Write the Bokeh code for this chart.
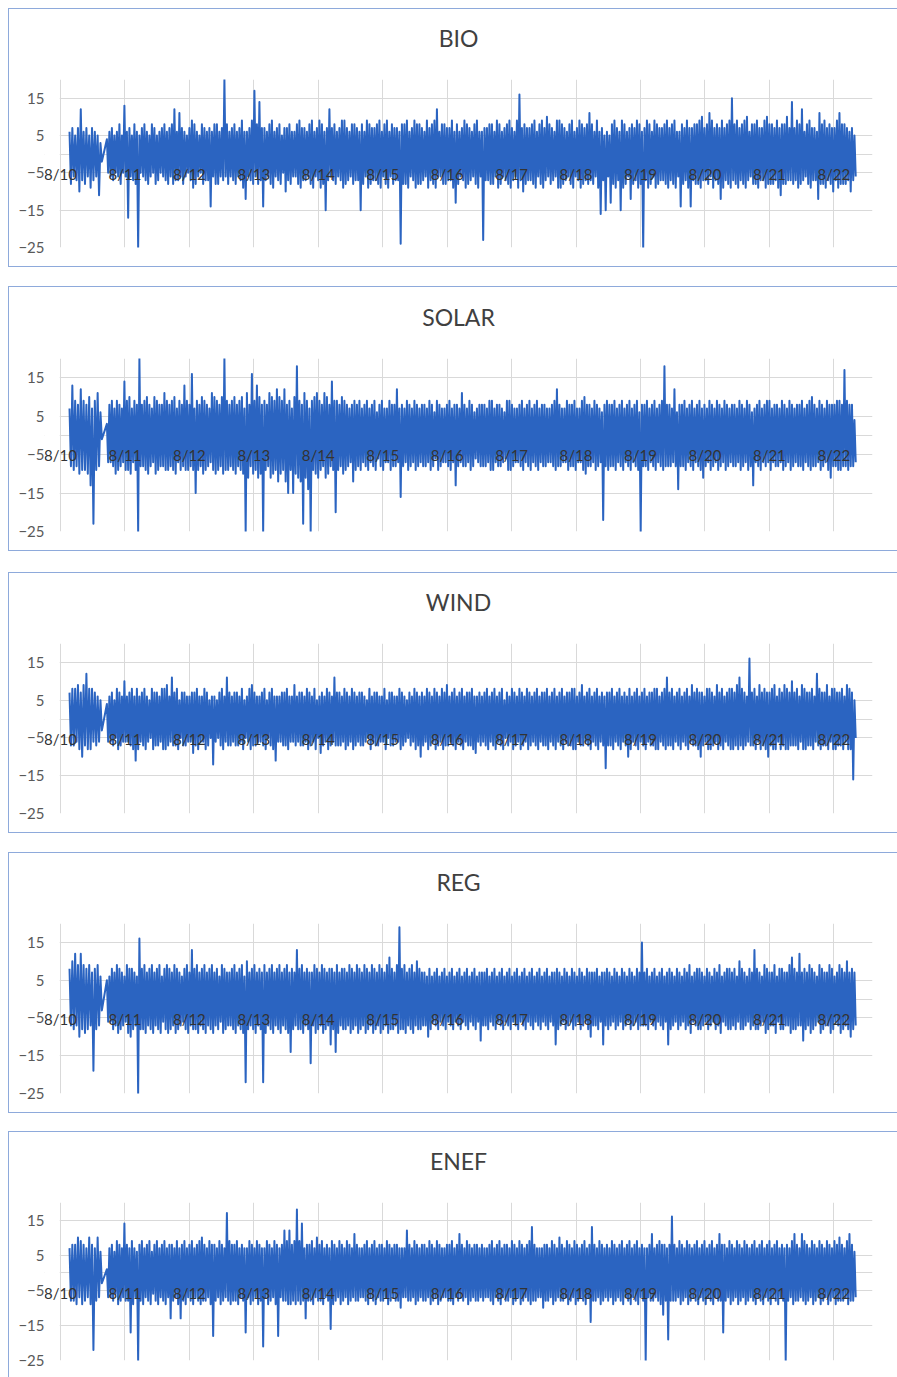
import numpy as np
from bokeh.plotting import figure
from bokeh.layouts import column
from bokeh.models import Range1d, FixedTicker, BoxAnnotation
from bokeh.embed import file_html
from bokeh.resources import INLINE

# ---------------- data ----------------
day_labels = ["8/10", "8/11", "8/12", "8/13", "8/14", "8/15", "8/16",
              "8/17", "8/18", "8/19", "8/20", "8/21", "8/22"]
y_ticks = [-25, -15, -5, 5, 15]
titles = ["BIO", "SOLAR", "WIND", "REG", "ENEF"]

# interval start times (days after 8/10 00:00): a short first block, a data gap, the main block.
# each interval holds its high reading followed by its low reading.
t_a = np.linspace(0.14, 0.62, 12)
t_b = np.linspace(0.72, 12.32, 300)

bio_a_hi = [6, 7, 5, 7, 12, 6, 7, 5, 7, 6, 5, 3]
bio_a_lo = [-8, -6, -7, -10, -7, -8, -6, -9, -7, -6, -11, -2]
bio_hi = [
    4, 6, 7, 5, 6, 8, 5, 13, 6, 7, 5, 8, 6, 5, 7, 8, 6, 5, 8, 7, 5, 6, 7, 8, 6,
    7, 8, 12, 6, 11, 7, 6, 5, 7, 9, 8, 6, 5, 8, 7, 6, 7, 6, 8, 8, 6, 7, 20, 8, 6,
    7, 8, 6, 7, 9, 6, 6, 7, 9, 17, 8, 14, 7, 7, 6, 8, 9, 6, 7, 8, 5, 7, 7, 8, 6,
    6, 8, 9, 7, 7, 6, 8, 9, 6, 7, 9, 8, 6, 7, 12, 7, 8, 6, 7, 9, 9, 7, 6, 8, 8,
    7, 6, 8, 6, 9, 8, 7, 7, 8, 9, 6, 8, 9, 6, 8, 7, 7, 6, 8, 8, 9, 6, 7, 9, 8,
    8, 7, 6, 9, 7, 8, 9, 12, 6, 8, 8, 7, 7, 9, 6, 8, 6, 7, 9, 8, 7, 6, 8, 9, 6,
    6, 7, 7, 8, 8, 6, 9, 8, 6, 7, 8, 9, 7, 6, 9, 16, 7, 8, 7, 7, 8, 9, 6, 8, 9,
    7, 10, 8, 7, 6, 9, 9, 8, 7, 6, 8, 9, 6, 7, 9, 8, 7, 8, 11, 8, 6, 9, 6, 7, 5,
    6, 5, 8, 9, 7, 6, 9, 8, 6, 7, 8, 7, 9, 8, 6, 7, 9, 8, 6, 9, 8, 7, 7, 8, 9,
    7, 8, 9, 6, 6, 8, 7, 9, 7, 7, 8, 8, 9, 10, 7, 8, 11, 9, 7, 8, 7, 9, 7, 8, 9,
    15, 8, 9, 7, 8, 9, 10, 6, 8, 8, 9, 7, 7, 9, 10, 8, 8, 7, 9, 7, 8, 8, 10, 7, 14,
    7, 9, 8, 12, 6, 8, 9, 7, 7, 6, 11, 8, 9, 7, 8, 7, 7, 9, 11, 8, 8, 7, 6, 7, 5,
]
bio_lo = [
    -5, -6, -7, -5, -6, -8, -5, -6, -17, -6, -7, -8, -25, -5, -6, -7, -8, -6, -5, -8, -7, -5, -6, -7, -8,
    -6, -8, -7, -7, -6, -8, -6, -5, -7, -9, -8, -6, -5, -8, -7, -7, -14, -6, -8, -8, -6, -7, -6, -8, -6,
    -7, -8, -6, -7, -9, -12, -6, -7, -8, -6, -8, -7, -14, -7, -6, -8, -9, -6, -7, -8, -5, -10, -7, -8, -6,
    -6, -8, -9, -7, -7, -6, -8, -9, -6, -7, -9, -8, -15, -7, -6, -7, -8, -6, -7, -9, -8, -7, -6, -8, -7,
    -7, -15, -8, -6, -9, -8, -7, -7, -8, -9, -6, -8, -9, -6, -8, -7, -7, -24, -8, -8, -9, -6, -7, -9, -8,
    -8, -7, -6, -9, -7, -8, -9, -6, -6, -8, -8, -7, -7, -9, -13, -8, -6, -7, -9, -8, -7, -6, -8, -9, -6,
    -23, -7, -7, -8, -8, -6, -9, -8, -6, -7, -8, -9, -7, -6, -9, -7, -10, -8, -7, -7, -8, -9, -6, -8, -9,
    -7, -6, -8, -7, -6, -9, -9, -8, -7, -6, -8, -9, -6, -7, -9, -8, -7, -8, -7, -8, -6, -9, -16, -7, -15,
    -6, -13, -8, -9, -7, -15, -9, -8, -6, -12, -8, -7, -9, -8, -25, -7, -9, -8, -6, -9, -8, -7, -7, -8, -9,
    -7, -8, -9, -6, -14, -8, -7, -9, -14, -7, -8, -8, -9, -7, -7, -8, -6, -9, -7, -8, -12, -9, -7, -8, -9,
    -7, -8, -9, -7, -8, -9, -7, -6, -8, -8, -9, -7, -7, -9, -8, -8, -8, -7, -9, -11, -8, -8, -7, -7, -8,
    -7, -9, -8, -7, -6, -8, -9, -7, -7, -12, -8, -8, -9, -7, -8, -10, -7, -9, -8, -8, -8, -7, -10, -7, -6,
]

solar_a_hi = [7, 13, 9, 8, 12, 9, 8, 10, 7, 9, 11, 6]
solar_a_lo = [-8, -9, -8, -10, -9, -9, -10, -13, -23, -9, -8, -1]
solar_hi = [
    3, 8, 9, 7, 9, 8, 7, 14, 9, 10, 7, 9, 8, 20, 8, 9, 10, 8, 7, 10, 9, 8, 8, 11, 9,
    8, 9, 10, 7, 9, 8, 13, 9, 8, 16, 7, 9, 8, 10, 9, 8, 7, 11, 10, 9, 8, 10, 20, 9, 8,
    9, 10, 8, 9, 10, 7, 11, 8, 16, 9, 13, 10, 8, 9, 8, 11, 10, 9, 12, 10, 9, 12, 8, 9, 7,
    10, 18, 9, 8, 11, 9, 7, 9, 10, 11, 9, 8, 11, 10, 8, 14, 9, 9, 8, 10, 9, 8, 7, 8, 9,
    8, 9, 7, 8, 9, 7, 8, 9, 6, 8, 9, 7, 7, 9, 8, 8, 12, 7, 8, 7, 9, 8, 7, 9, 8,
    7, 8, 8, 7, 9, 8, 6, 9, 8, 7, 7, 8, 9, 7, 8, 8, 7, 11, 8, 7, 9, 8, 6, 7, 8,
    8, 8, 7, 9, 9, 7, 8, 8, 7, 6, 9, 9, 8, 7, 7, 8, 9, 7, 8, 9, 7, 8, 9, 7, 8,
    8, 7, 7, 8, 9, 12, 8, 7, 7, 9, 8, 8, 9, 7, 7, 9, 10, 8, 8, 7, 9, 8, 7, 6, 8,
    9, 8, 8, 9, 7, 8, 9, 7, 8, 9, 7, 8, 9, 6, 8, 8, 9, 7, 8, 9, 7, 8, 9, 18, 8,
    8, 7, 12, 6, 8, 8, 9, 7, 8, 9, 7, 8, 9, 7, 8, 7, 9, 8, 7, 9, 8, 7, 9, 8, 7,
    8, 8, 7, 9, 8, 7, 9, 8, 6, 7, 8, 9, 7, 8, 9, 9, 7, 8, 8, 7, 9, 8, 7, 9, 8,
    7, 8, 8, 9, 7, 8, 9, 10, 8, 7, 9, 8, 7, 9, 8, 8, 8, 9, 9, 8, 17, 9, 8, 8, 4,
]
solar_lo = [
    -7, -7, -8, -10, -9, -8, -7, -9, -9, -10, -7, -9, -25, -8, -8, -9, -10, -8, -7, -10, -9, -8, -8, -9, -9,
    -8, -9, -10, -7, -9, -8, -9, -9, -8, -9, -15, -9, -8, -10, -9, -8, -7, -9, -10, -9, -8, -10, -9, -9, -8,
    -9, -10, -8, -9, -10, -25, -11, -8, -10, -9, -11, -10, -25, -9, -8, -11, -10, -9, -12, -10, -9, -12, -15, -9, -15,
    -10, -11, -12, -23, -11, -14, -25, -9, -10, -11, -9, -8, -11, -10, -8, -9, -20, -9, -8, -10, -9, -8, -7, -12, -9,
    -8, -9, -7, -8, -9, -7, -8, -9, -6, -8, -9, -7, -7, -9, -8, -8, -7, -16, -8, -7, -9, -8, -7, -9, -8,
    -7, -8, -8, -7, -9, -8, -6, -9, -8, -7, -7, -8, -9, -7, -13, -8, -7, -8, -8, -7, -9, -8, -6, -7, -8,
    -8, -8, -7, -9, -9, -7, -8, -8, -7, -6, -9, -9, -8, -7, -7, -8, -9, -7, -8, -9, -7, -8, -9, -7, -8,
    -8, -7, -7, -8, -9, -8, -8, -7, -7, -9, -8, -8, -9, -7, -7, -9, -10, -8, -8, -7, -9, -8, -7, -22, -8,
    -9, -8, -8, -9, -7, -8, -9, -7, -8, -9, -7, -8, -9, -25, -8, -8, -9, -7, -8, -9, -7, -8, -9, -8, -8,
    -8, -7, -8, -14, -8, -8, -9, -7, -8, -9, -7, -8, -9, -11, -8, -7, -9, -8, -7, -9, -8, -7, -9, -8, -7,
    -8, -8, -7, -9, -8, -7, -9, -8, -13, -7, -8, -9, -7, -8, -7, -9, -7, -8, -8, -7, -9, -8, -7, -9, -8,
    -7, -8, -8, -9, -7, -8, -9, -8, -8, -7, -9, -8, -7, -9, -11, -8, -8, -9, -9, -8, -8, -9, -8, -8, -7,
]

wind_a_hi = [7, 8, 8, 9, 7, 9, 12, 8, 8, 7, 6, 5]
wind_a_lo = [-7, -7, -6, -8, -10, -7, -8, -8, -6, -7, -6, -3]
wind_hi = [
    4, 6, 7, 5, 8, 7, 6, 10, 6, 7, 8, 6, 8, 6, 7, 8, 6, 5, 8, 7, 7, 6, 8, 8, 9,
    6, 11, 7, 8, 5, 7, 7, 6, 6, 7, 7, 8, 6, 6, 8, 7, 5, 6, 6, 5, 7, 8, 6, 11, 7,
    6, 7, 7, 6, 8, 5, 6, 8, 9, 7, 6, 6, 7, 8, 5, 7, 8, 6, 6, 6, 7, 7, 8, 6, 6,
    9, 6, 7, 7, 6, 8, 7, 6, 8, 5, 6, 7, 6, 8, 7, 6, 11, 7, 7, 6, 8, 7, 6, 8, 7,
    6, 7, 7, 6, 5, 8, 6, 7, 7, 6, 6, 8, 5, 7, 7, 6, 6, 8, 7, 6, 5, 7, 6, 8, 7,
    6, 7, 6, 8, 7, 6, 8, 7, 6, 8, 7, 9, 6, 7, 8, 6, 7, 8, 6, 7, 7, 8, 6, 6, 7,
    6, 7, 8, 6, 7, 8, 6, 7, 8, 5, 7, 6, 8, 7, 6, 8, 7, 6, 8, 7, 6, 7, 8, 6, 7,
    7, 8, 6, 7, 8, 6, 7, 8, 6, 7, 7, 8, 8, 6, 7, 9, 6, 7, 8, 6, 7, 8, 6, 7, 6,
    7, 7, 8, 6, 7, 8, 6, 7, 6, 8, 6, 7, 8, 6, 7, 8, 6, 7, 7, 8, 8, 6, 7, 8, 11,
    7, 8, 6, 7, 8, 6, 7, 8, 6, 9, 7, 8, 7, 7, 6, 8, 8, 7, 6, 9, 7, 8, 6, 7, 8,
    8, 7, 9, 11, 8, 7, 6, 16, 7, 8, 6, 9, 7, 8, 7, 7, 8, 9, 6, 8, 7, 9, 8, 7, 10,
    7, 8, 6, 9, 8, 7, 7, 8, 6, 12, 8, 7, 7, 9, 6, 8, 8, 7, 7, 8, 6, 9, 8, 7, 5,
]
wind_lo = [
    -6, -6, -7, -5, -8, -7, -6, -6, -6, -7, -8, -11, -8, -6, -7, -8, -6, -5, -8, -7, -7, -6, -8, -8, -7,
    -6, -7, -7, -8, -5, -7, -7, -6, -6, -9, -7, -8, -6, -6, -8, -7, -5, -12, -6, -5, -7, -8, -6, -7, -7,
    -6, -7, -7, -6, -8, -5, -6, -8, -7, -7, -6, -6, -7, -8, -5, -7, -8, -11, -6, -6, -7, -7, -8, -6, -6,
    -7, -6, -7, -7, -6, -8, -7, -6, -8, -5, -9, -7, -6, -8, -7, -6, -7, -7, -7, -6, -8, -7, -6, -8, -7,
    -6, -7, -7, -6, -5, -8, -6, -7, -7, -6, -6, -8, -5, -7, -7, -6, -6, -8, -7, -6, -5, -7, -6, -8, -7,
    -10, -7, -6, -8, -7, -6, -8, -7, -6, -8, -7, -7, -6, -7, -8, -6, -7, -8, -6, -7, -7, -8, -9, -6, -7,
    -6, -7, -8, -6, -7, -8, -6, -7, -8, -5, -7, -6, -8, -7, -6, -8, -7, -6, -8, -7, -6, -7, -8, -6, -7,
    -7, -8, -6, -7, -8, -6, -7, -8, -6, -7, -7, -8, -8, -6, -7, -7, -6, -7, -8, -6, -7, -8, -6, -7, -13,
    -7, -7, -8, -6, -7, -8, -6, -7, -10, -8, -6, -7, -8, -6, -7, -8, -6, -7, -7, -8, -8, -6, -7, -8, -7,
    -7, -8, -6, -7, -8, -6, -7, -8, -6, -7, -7, -8, -10, -7, -6, -8, -8, -7, -6, -8, -7, -8, -6, -7, -8,
    -8, -7, -8, -7, -8, -7, -6, -7, -7, -8, -6, -8, -7, -8, -10, -7, -8, -8, -6, -8, -7, -8, -8, -7, -7,
    -7, -8, -6, -8, -8, -7, -7, -8, -6, -7, -8, -7, -7, -8, -6, -8, -8, -7, -7, -8, -6, -8, -8, -16, -5,
]

reg_a_hi = [8, 10, 12, 9, 12, 9, 8, 9, 7, 8, 9, 6]
reg_a_lo = [-7, -8, -7, -10, -8, -9, -8, -7, -19, -8, -7, -3]
reg_hi = [
    5, 6, 8, 7, 9, 8, 7, 6, 9, 8, 8, 7, 6, 16, 8, 9, 7, 8, 9, 7, 8, 9, 6, 8, 9,
    8, 7, 9, 8, 7, 6, 8, 9, 7, 13, 8, 9, 7, 8, 9, 7, 8, 9, 7, 8, 6, 9, 8, 7, 7,
    8, 9, 7, 8, 9, 6, 10, 7, 8, 9, 7, 8, 7, 9, 7, 8, 9, 7, 8, 9, 7, 8, 9, 7, 8,
    7, 13, 8, 9, 7, 8, 7, 7, 9, 8, 7, 9, 8, 7, 8, 8, 7, 9, 7, 8, 8, 7, 9, 8, 7,
    9, 8, 7, 9, 8, 7, 9, 8, 7, 9, 8, 7, 9, 11, 8, 7, 9, 19, 8, 9, 7, 8, 9, 7, 10,
    8, 7, 7, 6, 8, 6, 7, 8, 6, 7, 8, 6, 7, 8, 6, 7, 8, 6, 7, 8, 6, 7, 8, 6, 7,
    7, 7, 8, 6, 7, 8, 6, 7, 8, 6, 7, 8, 6, 7, 8, 6, 7, 8, 6, 7, 8, 6, 7, 8, 6,
    7, 8, 6, 7, 7, 8, 7, 6, 8, 7, 6, 8, 7, 6, 8, 7, 6, 8, 7, 7, 7, 8, 6, 7, 7,
    8, 7, 6, 8, 7, 6, 8, 7, 6, 8, 7, 6, 8, 7, 15, 7, 8, 6, 7, 8, 6, 7, 8, 6, 7,
    8, 7, 6, 8, 7, 6, 8, 7, 9, 6, 7, 8, 8, 7, 6, 8, 7, 6, 8, 7, 9, 6, 7, 8, 8,
    7, 8, 6, 10, 8, 7, 6, 8, 7, 13, 8, 7, 6, 9, 8, 7, 7, 9, 6, 8, 8, 7, 7, 9, 11,
    8, 7, 12, 7, 8, 7, 9, 8, 7, 6, 9, 8, 7, 7, 9, 8, 6, 7, 9, 8, 7, 10, 7, 8, 7,
]
reg_lo = [
    -6, -6, -8, -7, -9, -8, -7, -6, -9, -10, -8, -7, -25, -8, -8, -9, -7, -8, -9, -7, -8, -9, -6, -8, -9,
    -8, -7, -9, -8, -7, -6, -8, -9, -7, -8, -8, -9, -7, -8, -9, -7, -8, -9, -7, -8, -6, -9, -8, -7, -7,
    -8, -9, -7, -8, -9, -22, -8, -7, -8, -9, -7, -8, -22, -9, -7, -8, -9, -7, -8, -9, -7, -8, -9, -14, -8,
    -7, -8, -8, -9, -7, -8, -17, -7, -9, -8, -7, -9, -8, -7, -12, -8, -14, -9, -7, -8, -8, -7, -9, -8, -7,
    -9, -8, -7, -9, -8, -7, -9, -8, -7, -9, -8, -7, -9, -8, -8, -7, -9, -8, -8, -9, -7, -8, -9, -7, -8,
    -8, -7, -7, -10, -8, -6, -7, -8, -6, -7, -8, -6, -7, -8, -6, -7, -8, -6, -7, -8, -6, -7, -8, -6, -11,
    -7, -7, -8, -6, -7, -8, -6, -7, -8, -6, -7, -8, -6, -7, -8, -6, -7, -8, -6, -7, -8, -6, -7, -8, -6,
    -7, -8, -6, -7, -12, -8, -7, -6, -8, -7, -6, -8, -7, -6, -8, -7, -6, -8, -10, -7, -7, -8, -6, -12, -7,
    -8, -7, -6, -8, -7, -6, -8, -7, -6, -8, -7, -6, -8, -7, -7, -7, -8, -6, -7, -8, -6, -7, -8, -6, -12,
    -8, -7, -6, -8, -7, -6, -8, -7, -9, -6, -7, -8, -8, -7, -6, -8, -7, -6, -8, -7, -9, -6, -7, -8, -8,
    -7, -8, -6, -8, -8, -7, -6, -8, -7, -8, -8, -7, -6, -9, -8, -7, -7, -9, -6, -8, -8, -7, -7, -9, -8,
    -8, -7, -7, -11, -8, -7, -9, -8, -7, -6, -9, -8, -7, -7, -9, -8, -6, -7, -9, -8, -7, -8, -10, -8, -7,
]

enef_a_hi = [7, 8, 8, 10, 9, 8, 7, 10, 8, 7, 10, 6]
enef_a_lo = [-8, -8, -9, -7, -9, -8, -7, -9, -22, -8, -7, -3]
enef_hi = [
    1, 7, 8, 6, 9, 8, 7, 14, 8, 7, 9, 7, 6, 8, 9, 7, 8, 9, 6, 8, 9, 7, 8, 9, 7,
    8, 8, 7, 9, 7, 8, 9, 7, 8, 9, 7, 8, 9, 10, 8, 7, 9, 8, 8, 7, 9, 8, 7, 17, 9,
    8, 8, 9, 7, 8, 7, 7, 9, 8, 7, 9, 8, 7, 7, 9, 8, 7, 9, 8, 7, 8, 12, 9, 12, 8,
    9, 18, 9, 14, 7, 8, 8, 9, 7, 10, 8, 9, 7, 8, 7, 9, 8, 7, 9, 8, 7, 9, 8, 7, 11,
    8, 7, 7, 8, 9, 7, 8, 9, 7, 8, 8, 7, 9, 8, 7, 8, 8, 7, 7, 7, 12, 8, 7, 9, 8,
    7, 8, 8, 7, 9, 8, 7, 9, 8, 7, 7, 8, 8, 9, 7, 8, 11, 8, 7, 9, 8, 7, 8, 8, 7,
    8, 7, 7, 8, 9, 7, 8, 9, 7, 8, 8, 7, 9, 8, 7, 9, 8, 7, 8, 9, 13, 8, 7, 7, 7,
    8, 8, 7, 9, 8, 7, 10, 8, 7, 9, 8, 7, 9, 8, 7, 8, 9, 7, 8, 13, 8, 7, 9, 8, 7,
    8, 7, 9, 8, 7, 8, 9, 7, 8, 9, 7, 8, 9, 7, 8, 7, 7, 8, 11, 7, 8, 9, 8, 8, 7,
    8, 16, 8, 7, 9, 8, 7, 9, 8, 7, 8, 9, 7, 8, 9, 7, 8, 9, 7, 8, 11, 8, 8, 7, 9,
    8, 7, 9, 8, 7, 9, 8, 7, 8, 9, 7, 8, 9, 7, 8, 9, 7, 8, 9, 7, 8, 7, 8, 7, 9,
    11, 8, 7, 11, 9, 8, 7, 9, 8, 7, 9, 8, 7, 9, 8, 7, 9, 8, 10, 8, 7, 9, 11, 8, 6,
]
enef_lo = [
    -7, -7, -8, -6, -9, -8, -7, -8, -8, -17, -9, -7, -25, -8, -9, -7, -8, -9, -6, -8, -9, -7, -8, -9, -7,
    -13, -8, -7, -9, -13, -8, -9, -7, -8, -9, -7, -8, -9, -8, -8, -7, -9, -18, -8, -7, -9, -8, -7, -8, -9,
    -8, -8, -9, -7, -8, -17, -7, -9, -8, -7, -9, -8, -21, -7, -9, -8, -7, -9, -18, -7, -8, -8, -9, -9, -8,
    -9, -8, -9, -8, -13, -8, -8, -9, -7, -8, -8, -9, -7, -8, -16, -9, -8, -7, -9, -8, -7, -9, -8, -7, -8,
    -8, -7, -7, -8, -9, -7, -8, -9, -7, -8, -8, -7, -9, -8, -7, -8, -8, -10, -7, -7, -8, -8, -7, -9, -8,
    -7, -8, -8, -7, -9, -8, -7, -9, -8, -7, -7, -8, -8, -9, -7, -8, -7, -8, -7, -9, -8, -7, -8, -8, -7,
    -8, -7, -7, -8, -9, -7, -8, -9, -7, -8, -8, -7, -9, -8, -7, -9, -8, -7, -8, -9, -8, -8, -7, -7, -10,
    -8, -8, -7, -9, -8, -7, -8, -8, -7, -9, -8, -7, -9, -8, -7, -8, -9, -7, -14, -8, -8, -7, -9, -8, -7,
    -8, -7, -9, -8, -7, -8, -9, -7, -8, -9, -7, -8, -9, -7, -8, -25, -7, -8, -8, -7, -8, -9, -12, -8, -19,
    -8, -8, -8, -7, -9, -8, -7, -9, -8, -7, -8, -9, -7, -8, -9, -7, -8, -9, -7, -8, -8, -17, -8, -7, -9,
    -8, -7, -9, -8, -7, -9, -8, -7, -8, -9, -7, -8, -9, -7, -8, -9, -7, -8, -9, -7, -8, -25, -8, -7, -9,
    -8, -8, -7, -8, -9, -8, -7, -9, -8, -7, -9, -8, -7, -9, -8, -7, -9, -8, -8, -8, -7, -9, -8, -8, -7,
]

blocks_a = [(bio_a_hi, bio_a_lo), (solar_a_hi, solar_a_lo), (wind_a_hi, wind_a_lo),
            (reg_a_hi, reg_a_lo), (enef_a_hi, enef_a_lo)]
blocks_b = [(bio_hi, bio_lo), (solar_hi, solar_lo), (wind_hi, wind_lo),
            (reg_hi, reg_lo), (enef_hi, enef_lo)]
for (ah, al), (bh, bl) in zip(blocks_a, blocks_b):
    assert len(ah) == len(al) == len(t_a)
    assert len(bh) == len(bl) == len(t_b), (len(bh), len(bl))


def interleave(t, hi, lo):
    step = t[1] - t[0]
    x = np.empty(2 * len(t))
    y = np.empty(2 * len(t))
    x[0::2], x[1::2] = t, t + step / 2
    y[0::2], y[1::2] = hi, lo
    return x, y


# ---------------- layout ----------------
fig_heights = [259, 265, 261, 261, 246]
gaps_above = [8, 19, 21, 19, 18]
borders_top = [70, 71, 70, 70, 70]
borders_bottom = [21, 21, 21, 21, 18]

FIG_W = 889
LEFT = 35          # frame starts 16 px left of the 8/10 gridline so its label is not clipped
RIGHT = 26
PX_PER_DAY = (FIG_W - LEFT - RIGHT - 16) / 12.6
X0 = -16 / PX_PER_DAY

FONT = "Lato"
LINE_COLOR = "#2b64c1"
GRID = "#d9d9d9"
BOX = "1.5px solid #8eaadb"

figs = []
for i, name in enumerate(titles):
    styles = {"border-top": BOX, "border-left": BOX}
    if i < 4:
        styles["border-bottom"] = BOX
    p = figure(width=FIG_W, height=fig_heights[i],
               x_range=Range1d(X0, 12.6), y_range=Range1d(-25, 20),
               output_backend="svg", toolbar_location=None,
               min_border_left=LEFT, min_border_right=RIGHT,
               min_border_top=borders_top[i], min_border_bottom=borders_bottom[i],
               margin=(gaps_above[i], 0, 0, 8), styles=styles,
               title=name + "\n")
    p.title.align = "center"
    p.title.text_font = FONT
    p.title.text_font_size = "23px"
    p.title.text_font_style = "normal"
    p.title.text_color = "#404040"
    p.title.standoff = 0
    p.outline_line_color = None
    p.background_fill_color = "white"
    p.border_fill_color = "white"

    # y axis
    p.yaxis.ticker = FixedTicker(ticks=y_ticks)
    p.yaxis.axis_line_color = None
    p.yaxis.major_tick_line_color = None
    p.yaxis.major_tick_out = 0
    p.yaxis.major_tick_in = 0
    p.yaxis.minor_tick_line_color = None
    p.yaxis.major_label_text_font = FONT
    p.yaxis.major_label_text_font_size = "15px"
    p.yaxis.major_label_text_color = "#595959"
    p.yaxis.major_label_standoff = 0

    # x (date) axis crossing at 0; its line is drawn as a grid line under the data
    p.xaxis.ticker = FixedTicker(ticks=list(range(len(day_labels))))
    p.xaxis.major_label_overrides = {k: lbl for k, lbl in enumerate(day_labels)}
    p.xaxis.fixed_location = 0
    p.xaxis.axis_line_color = None
    p.xaxis.major_tick_line_color = None
    p.xaxis.major_tick_out = 0
    p.xaxis.major_tick_in = 0
    p.xaxis.minor_tick_line_color = None
    p.xaxis.major_label_text_font = FONT
    p.xaxis.major_label_text_font_size = "15px"
    p.xaxis.major_label_text_color = "#333333"
    p.xaxis.major_label_standoff = 11

    p.xgrid.grid_line_color = GRID
    p.ygrid.grid_line_color = GRID
    p.ygrid.ticker = FixedTicker(ticks=sorted(y_ticks + [0]))
    # white mask over the grid left of the 8/10 line (plot area starts there)
    p.add_layout(BoxAnnotation(right=-0.012, fill_color="white", fill_alpha=1.0,
                               line_color=None, level="underlay"))

    xa, ya = interleave(t_a, *blocks_a[i])
    xb, yb = interleave(t_b, *blocks_b[i])
    p.line(np.concatenate([xa, xb]), np.concatenate([ya, yb]),
           line_color=LINE_COLOR, line_width=2, line_join="round")
    figs.append(p)

layout = column(*figs, spacing=0)
open("out.html", "w").write(file_html(layout, INLINE))
